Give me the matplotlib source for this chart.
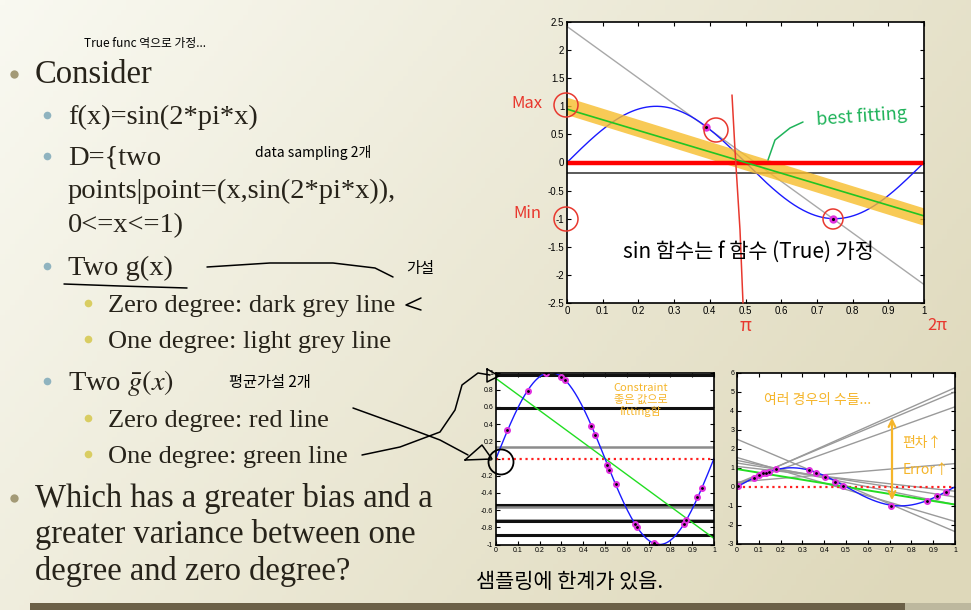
import matplotlib
matplotlib.use("Agg")
import matplotlib.pyplot as plt
import numpy as np
from matplotlib.patches import Circle, FancyArrowPatch

W, H = 971, 610
SERIF = ["Liberation Serif", "DejaVu Serif"]
HAND = ["Noto Sans CJK KR", "DejaVu Sans"]
plt.rcParams["mathtext.fontset"] = "stix"

# ---------------- data ----------------
# top panel: two samples from f(x) = sin(2*pi*x)
top_pts_x = [0.39, 0.745]
top_pts_y = [0.63, -1.0]
top_gbar1_ends = [0.95, -0.95]      # average one-degree hypothesis (green)
top_gbar0 = 0.0                      # average zero-degree hypothesis (red)
top_highlight_ends = [1.0, -0.97]    # orange marker stroke

# bottom-left panel: zero-degree fits of many sample pairs
bl_pts_x = [0.052, 0.145, 0.228, 0.299, 0.317, 0.438, 0.455, 0.51, 0.52,
            0.55, 0.636, 0.646, 0.723, 0.735, 0.861, 0.871, 0.922, 0.945]
bl_pts_y = [0.33, 0.79, 0.99, 0.95, 0.91, 0.38, 0.27, -0.07, -0.13,
            -0.30, -0.76, -0.80, -0.98, -1.0, -0.76, -0.72, -0.45, -0.34]
bl_levels = [0.97, 0.59, 0.135, -0.537, -0.564, -0.71, -0.73, -0.89]
bl_level_dark = [True, True, False, True, False, False, True, True]
bl_gbar1_ends = [0.93, -0.93]

# bottom-right panel: one-degree fits of many sample pairs
br_pts_x = [0.005, 0.078, 0.10, 0.12, 0.135, 0.145, 0.177, 0.33, 0.364,
            0.404, 0.45, 0.486, 0.706, 0.87, 0.917, 0.96]
br_pts_y = [0.05, 0.47, 0.61, 0.70, 0.75, 0.79, 0.91, 0.87, 0.73,
            0.49, 0.23, 0.04, -1.0, -0.75, -0.48, -0.26]
br_fit_y0 = [0.12, 0.18, 0.10, 2.50, 1.54, 1.39, 1.25, 1.07, 0.25]
br_fit_y1 = [5.20, 4.98, 4.20, -2.35, -1.82, -0.93, -0.53, -0.23, 1.22]
br_gbar1_ends = [0.93, -0.93]

xs = np.linspace(0, 1, 400)
f_true = np.sin(2 * np.pi * xs)

fig = plt.figure(figsize=(W / 100, H / 100), dpi=100)

# ---------------- slide background ----------------
bg = fig.add_axes([0, 0, 1, 1], zorder=0)
gx, gy = np.meshgrid(np.linspace(0, 1, 200), np.linspace(0, 1, 120))
t = np.clip(0.7 * gx + 0.35 * gy, 0, 1)[..., None]
c0 = np.array([249, 249, 241]) / 255
c1 = np.array([222, 216, 186]) / 255
bg.imshow(c0 + (c1 - c0) * t, extent=[0, W, H, 0], aspect="auto")
bg.add_patch(plt.Rectangle((30, 603), 875, 7, color="#6b6047", lw=0))
bg.add_patch(plt.Rectangle((905, 603), 66, 7, color="#bdb89e", lw=0))
bg.set_xlim(0, W)
bg.set_ylim(H, 0)
bg.axis("off")

TXT = "#27231a"
bullets = [
    # (level, baseline y, text)
    (1, 83, "Consider"),
    (2, 124, "f(x)=sin(2*pi*x)"),
    (2, 165, "D={two"),
    (0, 198, "points|point=(x,sin(2*pi*x)),"),
    (0, 232, "0<=x<=1)"),
    (2, 275, "Two g(x)"),
    (3, 312, "Zero degree: dark grey line"),
    (3, 348, "One degree: light grey line"),
    (2, 390, r"Two $\bar{g}(x)$"),
    (3, 427, "Zero degree: red line"),
    (3, 463, "One degree: green line"),
    (1, 507, "Which has a greater bias and a"),
    (-1, 543, "greater variance between one"),
    (-1, 580, "degree and zero degree?"),
]
lvl_x = {1: 35, -1: 35, 2: 68, 0: 68, 3: 108}
lvl_size = {1: 23.5, -1: 23.5, 2: 20.5, 0: 20.5, 3: 19}
dot = {1: (14, "#a39a76", 6), 2: (47, "#8fb3bf", 5.5), 3: (88, "#d9cd62", 5.5)}
for lvl, yb, s in bullets:
    bg.text(lvl_x[lvl], yb, s, fontsize=lvl_size[lvl], family=SERIF,
            color=TXT, va="baseline", ha="left")
    if lvl in dot:
        bx, bc, bs = dot[lvl]
        bg.plot(bx, yb - 9.5, "o", color=bc, ms=bs, mec="none")

# ---------------- plot axes ----------------
def pax(l, t_, r, b):
    return fig.add_axes([l / W, 1 - b / H, (r - l) / W, (b - t_) / H], zorder=2)


def style(ax, ylim, yticks, ylabels, size):
    ax.set_xlim(0, 1)
    ax.set_ylim(*ylim)
    ax.set_xticks(np.arange(0, 1.01, 0.1))
    ax.set_xticklabels(["0"] + [f"{v:.1f}" for v in np.arange(0.1, 0.95, 0.1)] + ["1"])
    ax.set_yticks(yticks)
    ax.set_yticklabels(ylabels)
    ax.tick_params(direction="in", top=True, right=True, length=3, width=0.8,
                   labelsize=size, pad=2)
    for lab in ax.get_xticklabels() + ax.get_yticklabels():
        lab.set_family("Liberation Sans")
    for sp in ax.spines.values():
        sp.set_linewidth(1.2)


# top panel
ax = pax(567, 22, 924, 303)
coef = np.polyfit(top_pts_x, top_pts_y, 1)
ax.plot([0, 1], np.polyval(coef, [0, 1]), color="#a8a8a8", lw=1)
ax.axhline(np.mean(top_pts_y), color="#5a5a5a", lw=1.4)
ax.plot(xs, f_true, color="#1a1aff", lw=1)
ax.plot([0, 1], top_highlight_ends, color="#f7bd2c", lw=12, alpha=0.8,
        solid_capstyle="round")
ax.axhline(top_gbar0, color="#ff0000", lw=3.2)
ax.plot([0, 1], top_gbar1_ends, color="#22c422", lw=1.2)
ax.plot(top_pts_x, top_pts_y, "o", color="#e030e0", ms=5, mec="#e030e0")
ax.plot(top_pts_x, top_pts_y, ".", color="k", ms=2.5)
yt = np.arange(-2.5, 2.51, 0.5)
style(ax, (-2.5, 2.5), yt, [f"{v:g}" for v in yt], 7)

# bottom-left panel
ax = pax(496, 372.5, 714, 544.5)
for lv, dk in zip(bl_levels, bl_level_dark):
    ax.axhline(lv, color="#111111" if dk else "#8c8c8c", lw=2.2 if dk else 1.8)
ax.axhline(0, color="#ff2020", lw=1.6, ls=":")
ax.plot([0, 1], bl_gbar1_ends, color="#22dd22", lw=1)
ax.plot(xs, f_true, color="#1a1aff", lw=1)
ax.plot(bl_pts_x, bl_pts_y, "o", color="#e030e0", ms=4, mec="#e030e0")
ax.plot(bl_pts_x, bl_pts_y, ".", color="k", ms=2)
yt = np.round(np.arange(-1, 1.01, 0.2), 1)
style(ax, (-1, 1), yt, [f"{v:g}" for v in yt], 5)

# bottom-right panel
ax = pax(737, 372.5, 955, 544)
for a, b in zip(br_fit_y0, br_fit_y1):
    ax.plot([0, 1], [a, b], color="#9a9a9a", lw=1)
ax.axhline(0, color="#ff2020", lw=1.6, ls=":")
ax.plot([0, 1], br_gbar1_ends, color="#22dd22", lw=1.4)
ax.plot(xs, f_true, color="#1a1aff", lw=1)
ax.plot(br_pts_x, br_pts_y, "o", color="#e030e0", ms=4, mec="#e030e0")
ax.plot(br_pts_x, br_pts_y, ".", color="k", ms=2)
yt = np.arange(-3, 6.1, 1)
style(ax, (-3, 6), yt, [f"{v:g}" for v in yt], 5)

# ---------------- handwritten notes ----------------
ov = fig.add_axes([0, 0, 1, 1], zorder=10)
ov.set_xlim(0, W)
ov.set_ylim(H, 0)
ov.axis("off")
ov.patch.set_alpha(0)


def ink(pts, color="k", lw=1.1):
    p = np.array(pts, dtype=float)
    ov.plot(p[:, 0], p[:, 1], color=color, lw=lw, solid_capstyle="round")


def note(x, y, s, size, color="k", **kw):
    ov.text(x, y, s, fontsize=size, family=HAND, color=color,
            ha="center", va="center", **kw)


note(145, 43, "True func 역으로 가정...", 8.5)
note(313, 152, "data sampling 2개", 10)
ink([(64, 284), (120, 286), (187, 288)])
ink([(207, 267), (270, 263), (333, 263), (375, 268), (393, 277)])
note(420, 268, "가설", 11)
ink([(421, 298), (406, 305), (421, 310)])
note(270, 382, "평균가설 2개", 11)

# arrows to bottom-left plot
ink([(362, 455), (400, 447), (440, 432), (455, 410), (462, 385), (478, 373), (490, 375)])
ink([(487, 369), (499, 376), (487, 382), (487, 369)])
ink([(353, 408), (400, 425), (440, 440), (468, 455)])
ink([(465, 460), (482, 445), (492, 459), (465, 460)])
ov.add_patch(Circle((501, 462), 12.5, fill=False, ec="k", lw=1.3))

# red notes on top panel
RED = "#e8382e"
for cx, cy, r in [(566, 105, 12), (566, 219, 12), (716, 130, 12), (833, 219, 10)]:
    ov.add_patch(Circle((cx, cy), r, fill=False, ec=RED, lw=1.1))
ink([(732, 95), (735, 150), (740, 230), (743, 303)], color=RED)
note(527, 103, "Max", 12, RED)
note(527, 213, "Min", 12, RED)
note(745, 326, "π", 13, RED)
note(937, 326, "2π", 12, RED)

GRN = "#1fb35a"
note(862, 117, "best fitting", 13, GRN, rotation=4)
ink([(768, 160), (775, 140), (790, 128), (803, 122)], color=GRN)
note(748, 252, "sin 함수는 f 함수 (True) 가정", 15)

ORG = "#f5b52a"
note(641, 400, "Constraint\n좋은 값으로\nfitting함", 8, ORG, linespacing=1.15)
note(818, 400, "여러 경우의 수들...", 10, ORG)
ov.add_patch(FancyArrowPatch((892, 503), (892, 415), arrowstyle="<->",
                             mutation_scale=12, color=ORG, lw=1.6))
note(922, 443, "편차↑", 10, ORG)
note(926, 470, "Error↑", 10, ORG)

note(570, 582, "샘플링에 한계가 있음.", 15)

fig.savefig("out.png", dpi=100)
